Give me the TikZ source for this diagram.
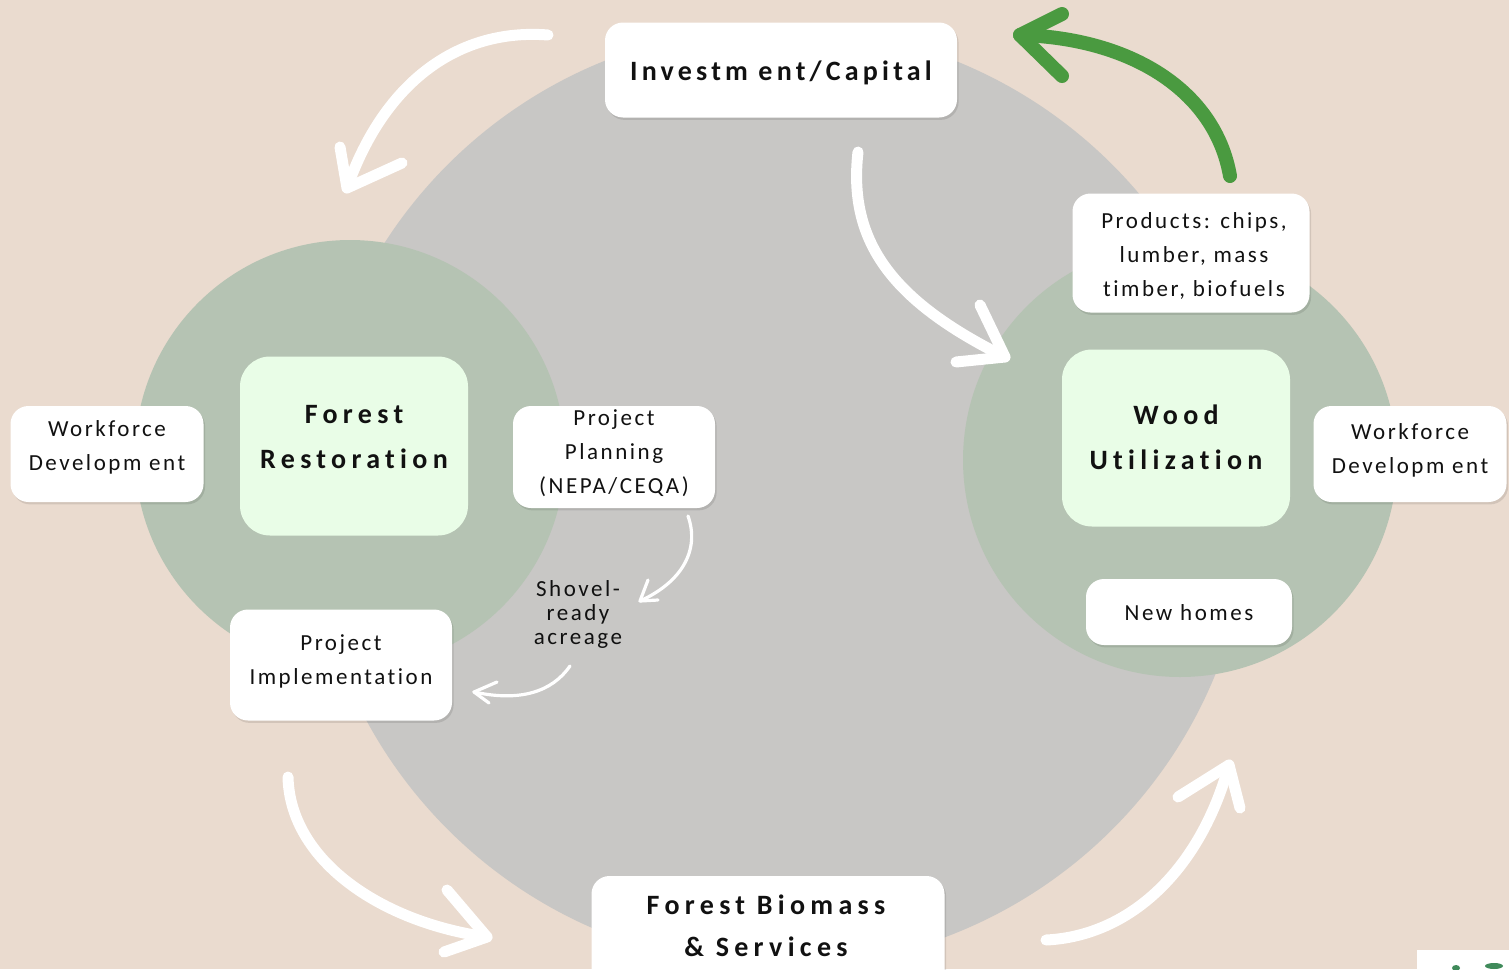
\documentclass[tikz,border=0pt]{standalone}
\usepackage{fontspec}
\setmainfont{Carlito}[Ligatures=NoCommon]
\newfontfamily\spacedfont[LetterSpace=11,Ligatures=NoCommon]{Carlito}
\newfontfamily\titlespaced[LetterSpace=15,Ligatures=NoCommon]{Carlito}
\newfontfamily\titlewide[LetterSpace=19,Ligatures=NoCommon]{Carlito}
\usetikzlibrary{shadows}
\definecolor{bg}{HTML}{EADBCF}
\definecolor{greyc}{HTML}{C8C7C5}
\definecolor{greenc}{HTML}{B5C3B3}
\definecolor{blobc}{HTML}{E9FDE7}
\definecolor{garrow}{HTML}{4A9A40}
\definecolor{ink}{HTML}{111111}
\definecolor{logog}{HTML}{3F8A5A}
\newcommand{\smallf}{\fontsize{11.5}{17}\selectfont\spacedfont}
\newcommand{\titlef}{\fontsize{14}{22.5}\selectfont\titlespaced\bfseries}
\newcommand{\titlewf}{\fontsize{14}{22.5}\selectfont\titlewide\bfseries}
\begin{document}
\begin{tikzpicture}[x=0.5pt,y=-0.5pt,
  box/.style={fill=white, rounded corners=9pt, inner sep=0pt,
    drop shadow={opacity=0.10, fill=black, shadow xshift=0.8pt, shadow yshift=-1.2pt}},
  blob/.style={fill=blobc, rounded corners=15pt, inner sep=0pt},
  plain/.style={align=center, inner sep=0pt, text=ink, font=\smallf},
  title/.style={align=center, inner sep=0pt, text=ink, font=\titlef},
  titlew/.style={align=center, inner sep=0pt, text=ink, font=\titlewf},
  warrow/.style={draw=white, line width=5.5pt, line cap=round, line join=round},
  thinarrow/.style={draw=white, line width=1.6pt, line cap=round, line join=round},
  garrowst/.style={draw=garrow, line width=7pt, line cap=round, line join=round}]
\useasboundingbox (0,0) rectangle (1509,969);
\fill[bg] (0,0) rectangle (1509,969);
% big circles
\fill[greyc] (780,497) circle [radius=470];
\fill[greenc] (350,455) circle [radius=215];
\fill[greenc] (1180,460) circle [radius=217];

% arrows: coordinates
\coordinate (a1s) at (548,35);  \coordinate (a1t) at (347,188);
\coordinate (a1b) at (340,147); \coordinate (a1c) at (402,163);
\coordinate (a2s) at (858,152); \coordinate (a2t) at (1005,357);
\coordinate (a2b) at (980,305); \coordinate (a2c) at (956,362);
\coordinate (a3s) at (1230,176); \coordinate (a3t) at (1020,35);
\coordinate (a3b) at (1062,14); \coordinate (a3c) at (1062,76);
\coordinate (a4s) at (288,777); \coordinate (a4t) at (487,937);
\coordinate (a4b) at (447,890); \coordinate (a4c) at (444,952);
\coordinate (a5s) at (1046,940); \coordinate (a5t) at (1229,765);
\coordinate (a5b) at (1178,797); \coordinate (a5c) at (1240,808);
\coordinate (a6s) at (688,516); \coordinate (a6t) at (640,601);
\coordinate (a6b) at (648,580); \coordinate (a6c) at (658,600);
\coordinate (a7s) at (570,666); \coordinate (a7t) at (474,692);
\coordinate (a7b) at (497,682); \coordinate (a7c) at (489,703);

\draw[warrow] (a1s) .. controls (460,28) and (385,80) .. (a1t);
\draw[warrow] (a1b) -- (a1t) -- (a1c);
\draw[warrow] (a2s) .. controls (848,240) and (890,300) .. (a2t);
\draw[warrow] (a2b) -- (a2t) -- (a2c);
\draw[garrowst] (a3s) .. controls (1215,90) and (1130,38) .. (a3t);
\draw[garrowst] (a3b) -- (a3t) -- (a3c);
\draw[warrow] (a4s) .. controls (290,860) and (380,922) .. (a4t);
\draw[warrow] (a4b) -- (a4t) -- (a4c);
\draw[warrow] (a5s) .. controls (1130,936) and (1200,870) .. (a5t);
\draw[warrow] (a5b) -- (a5t) -- (a5c);
\draw[thinarrow] (a6s) .. controls (700,550) and (682,582) .. (a6t);
\draw[thinarrow] (a6b) -- (a6t) -- (a6c);
\draw[thinarrow] (a7s) .. controls (552,692) and (520,702) .. (a7t);
\draw[thinarrow] (a7b) -- (a7t) -- (a7c);

% blobs
\node[blob, minimum width=114pt, minimum height=89.5pt] (fr) at (354,446) {};
\node[titlew] (frt) at (354,437) {Forest\\Restoration};
\node[blob, minimum width=114pt, minimum height=88.5pt] (wu) at (1176,438) {};
\node[titlew] (wut) at (1176,437) {Wood\\Utilization};

% boxes
\node[box, minimum width=176pt, minimum height=47.5pt] (inv) at (781,70) {};
\node[title] (invt) at (781,73) {Investm ent/Capital};
\node[box, minimum width=96.5pt, minimum height=48pt] (wfl) at (107,454) {};
\node[plain] (wflt) at (107,447) {Workforce\\Developm ent};
\node[box, minimum width=101pt, minimum height=51pt] (pp) at (614,457) {};
\node[plain] (ppt) at (614,453) {Project\\Planning\\(NEPA/CEQA)};
\node[box, minimum width=111pt, minimum height=55.5pt] (pi) at (341,665) {};
\node[plain] (pit) at (341,661) {Project\\Implementation};
\node[plain, font=\fontsize{11.5}{12}\selectfont\spacedfont] (sh) at (578,614) {Shovel-\\ready\\acreage};
\node[box, minimum width=96.5pt, minimum height=48pt] (wfr) at (1410,454) {};
\node[plain] (wfrt) at (1410,450) {Workforce\\Developm ent};
\node[box, minimum width=118.5pt, minimum height=59.5pt] (prod) at (1191,253) {};
\node[plain] (prodt) at (1194,256) {Products: chips,\\lumber, mass\\timber, biofuels};
\node[box, minimum width=103pt, minimum height=33pt] (nh) at (1189,612) {};
\node[plain] (nht) at (1189,613) {New homes};
\node[box, minimum width=176.5pt, minimum height=56pt] (fb) at (768,932) {};
\node[titlew, font=\fontsize{14}{21}\selectfont\titlewide\bfseries] (fbt) at (766,926) {Forest Biomass\\\& Services};

% logo corner
\fill[white] (1417,950) rectangle (1509,975);
\fill[logog] (1456,968) ellipse [x radius=4, y radius=3];
\fill[logog] (1494,966) ellipse [x radius=9, y radius=3];
\end{tikzpicture}
\end{document}
